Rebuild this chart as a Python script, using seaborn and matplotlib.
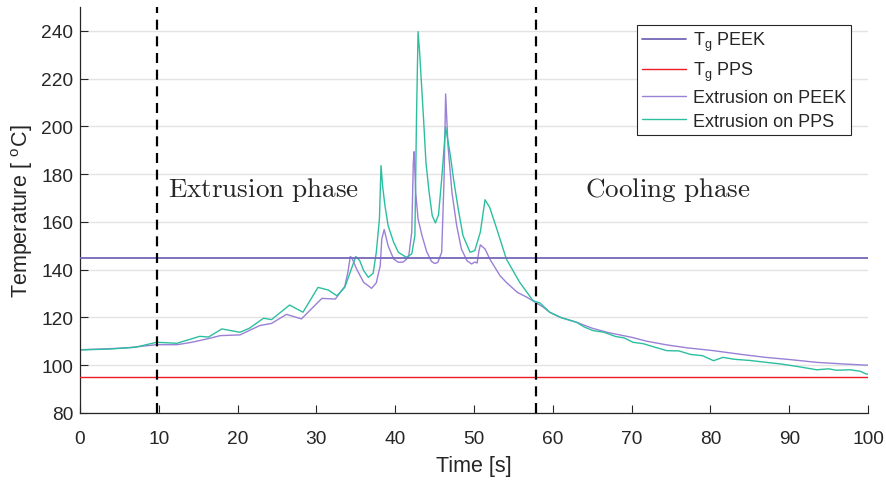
import matplotlib
matplotlib.use("Agg")
import matplotlib.pyplot as plt
import seaborn as sns
import pandas as pd

# ---- data ----
tg_peek = 145
tg_pps = 95
phase_limits = [9.8, 57.85]

peek_time = [0, 3, 6, 9.7, 12.3, 14, 16.1, 17.8, 20.3, 22.8, 24.3, 26.2, 28.1, 30.7, 32.4,
             33.6, 34.0, 34.3, 34.5, 35.1, 36.0, 37.0, 37.6, 38.1, 38.3, 38.6, 39.1, 39.8,
             40.4, 41.0, 41.7, 42.1, 42.3, 42.4, 42.6, 42.9, 43.4, 44.0, 44.6, 45.0, 45.4,
             45.9, 46.2, 46.4, 46.7, 47.2, 47.8, 48.4, 49.1, 49.7, 50.1, 50.4, 50.6, 50.8,
             51.4, 52.0, 53.3, 54.1, 55.5, 56.7, 58.8, 59.6, 61, 63, 65, 67, 70, 72, 74.5, 77,
             80.4, 84, 87, 90, 93.5, 97, 100]
peek_temp = [106.5, 106.8, 107.3, 108.6, 108.6, 109.5, 111, 112.4, 112.7, 116.6, 117.5, 121.3,
             119.4, 128, 127.7, 133, 139, 145.5, 145, 140.3, 134.7, 132.2, 134.5, 141.7, 152.9,
             156.8, 150, 144.5, 143.1, 143.2, 145.2, 155.7, 185, 189.4, 172.4, 161.3, 154.3,
             147.5, 143.5, 142.6, 143, 147.3, 178, 213.6, 192, 172.4, 158.5, 148.7, 143.8,
             142.4, 143.2, 142.8, 147.3, 150.4, 148.7, 144.5, 137.5, 134.7, 130.5, 128.5,
             124.3, 122.2, 120, 118, 115.5, 113.7, 111.7, 110, 108.5, 107.3, 106.1, 104.5,
             103.3, 102.4, 101.2, 100.5, 100]

pps_time = [0, 3.8, 7, 9.7, 12.3, 15.2, 16.3, 18, 20.3, 21.5, 23.3, 24.3, 26.6, 28.3, 30.2,
            31.5, 32.6, 33.6, 34.4, 35.0, 35.5, 36.0, 36.6, 37.2, 37.6, 38.0, 38.2, 38.4,
            38.7, 39.1, 39.8, 40.4, 41.4, 42.1, 42.5, 42.7, 42.9, 43.1, 43.6, 43.9, 44.3,
            44.7, 45.1, 45.5, 45.9, 46.4, 47.0, 47.4, 48.0, 48.6, 49.5, 50.1, 50.8, 51.4,
            52.0, 52.9, 54.1, 55.8, 57.5, 58.4, 59.6, 61, 62, 63, 64, 65.1, 66.5, 68, 69,
            70.2, 71.5, 73, 74.5, 76, 77.5, 79, 80.4, 81.6, 83, 85, 87.1, 89, 91, 93.5, 95,
            96, 97.7, 99, 99.8, 100]
pps_temp = [106.4, 106.8, 107.5, 109.6, 109.2, 112.1, 111.8, 115.2, 113.8, 115.5, 119.7, 119.1,
            125.2, 122.2, 132.6, 131.5, 129.1, 132.6, 140, 145.5, 143.8, 139.6, 136.8, 138.5,
            147.3, 161.3, 183.6, 175, 166.8, 158.5, 151.5, 147.3, 145.2, 146.6, 154.3, 203,
            239.7, 231, 203, 185, 172.5, 162.6, 159.6, 163, 178, 199.7, 187.8, 178, 165.4,
            154.3, 147.3, 148, 155.7, 169.3, 166, 157, 144.5, 134.7, 127, 126, 122.2, 120,
            119, 118, 116, 114.5, 113.8, 112, 111.5, 109.6, 109, 107.5, 106.1, 106, 104.5,
            104, 101.9, 103.3, 102.5, 102, 101.2, 100.5, 99.5, 98.1, 98.5, 97.9, 98.1, 97.5,
            96.3, 96.3]

x_ticks = [0, 10, 20, 30, 40, 50, 60, 70, 80, 90, 100]
y_ticks = [80, 100, 120, 140, 160, 180, 200, 220, 240]

# ---- styling ----
sns.set_style("white")
plt.rcParams["font.family"] = ["Liberation Sans", "DejaVu Sans"]
plt.rcParams["mathtext.fontset"] = "cm"

c_tg_peek = "#7468b8"
c_tg_pps = "#ee1c25"
c_peek = "#9a80d6"
c_pps = "#2cbf9f"
dark = "#262626"

fig = plt.figure(figsize=(8.86, 4.81), dpi=100)
ax = fig.add_axes([80 / 886, 67 / 481, 788 / 886, 406 / 481])

ax.axhline(tg_peek, color=c_tg_peek, lw=1.3, label=r"$\mathregular{T_g}$ PEEK", zorder=3)
ax.axhline(tg_pps, color=c_tg_pps, lw=1.0, label=r"$\mathregular{T_g}$ PPS", zorder=3)

df_peek = pd.DataFrame({"Time": peek_time, "Temp": peek_temp})
df_pps = pd.DataFrame({"Time": pps_time, "Temp": pps_temp})
sns.lineplot(data=df_peek, x="Time", y="Temp", ax=ax, color=c_peek, lw=1.0,
             label="Extrusion on PEEK", zorder=2, sort=False)
sns.lineplot(data=df_pps, x="Time", y="Temp", ax=ax, color=c_pps, lw=1.0,
             label="Extrusion on PPS", zorder=2, sort=False)

for xv in phase_limits:
    ax.axvline(xv, color="black", lw=1.6, ls=(0, (4.5, 3.0)), zorder=4)

ax.text(11.2, 174, r"$\mathrm{Extrusion\ phase}$", fontsize=19.5, va="center", ha="left")
ax.text(64.1, 174, r"$\mathrm{Cooling\ phase}$", fontsize=19.5, va="center", ha="left")

ax.set_xlim(0, 100)
ax.set_ylim(80, 250)
ax.set_xticks(x_ticks)
ax.set_yticks(y_ticks)
ax.tick_params(bottom=True, left=True, top=False, right=False, direction="in",
               length=6, width=0.8, colors=dark, labelsize=13.8, labelcolor=dark)
ax.tick_params(axis="x", pad=12)
ax.tick_params(axis="y", pad=5)
ax.grid(axis="y", color="#e3e3e3", lw=1.0)
ax.set_axisbelow(True)
for s in ["top", "right"]:
    ax.spines[s].set_visible(False)
for s in ["left", "bottom"]:
    ax.spines[s].set_color(dark)
    ax.spines[s].set_linewidth(0.9)

ax.set_xlabel("Time [s]", fontsize=15.5, color=dark, labelpad=6)
ax.set_ylabel(r"Temperature [ $^{\mathregular{o}}$C]", fontsize=15.5, color=dark, labelpad=4)

leg = ax.legend(loc="upper right", bbox_to_anchor=(0.979, 0.956), fontsize=13,
                frameon=True, fancybox=False, edgecolor=dark, framealpha=1,
                handlelength=2.4, borderpad=0.3, labelspacing=0.35, handletextpad=0.4,
                borderaxespad=0)
leg.get_frame().set_linewidth(0.8)

fig.savefig("out.png", dpi=100)
